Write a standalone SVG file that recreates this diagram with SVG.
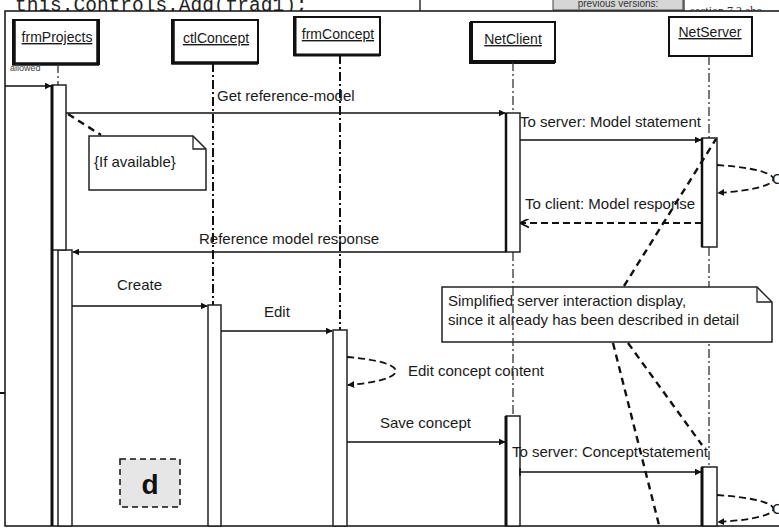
<svg xmlns="http://www.w3.org/2000/svg" width="779" height="529" viewBox="0 0 779 529">
<style>
.lbl{font-family:"Liberation Sans",Arial,sans-serif;font-size:15px;fill:#1a1a1a}
.hd{font-family:"Liberation Sans",Arial,sans-serif;font-size:14px;fill:#1a1a1a;text-decoration:underline;text-anchor:middle}
.box{fill:#fff;stroke:#111;stroke-width:2}
.act{fill:#fff;stroke:#222;stroke-width:1.5}
.life{stroke:#111;stroke-width:2;stroke-dasharray:9,3,2,3;fill:none}
.lifet{stroke:#333;stroke-width:1.3;stroke-dasharray:9,3,2,3;fill:none}
.msg{stroke:#111;stroke-width:1.6;fill:none}
.dmsg{stroke:#111;stroke-width:1.8;fill:none;stroke-dasharray:7,4}
.nl{stroke:#111;stroke-width:2.4;fill:none;stroke-dasharray:7,5}
.note{fill:#fff;stroke:#222;stroke-width:1.5}
</style>
<defs>
<marker id="fa" viewBox="0 0 10 10" refX="9" refY="5" markerWidth="7" markerHeight="7" orient="auto" markerUnits="userSpaceOnUse">
<path d="M0,0 L10,5 L0,10 z" fill="#111"/>
</marker>
<marker id="oa" viewBox="0 0 10 10" refX="9" refY="5" markerWidth="9" markerHeight="9" orient="auto" markerUnits="userSpaceOnUse">
<path d="M0,0 L10,5 L0,10" fill="none" stroke="#111" stroke-width="2"/>
</marker>
</defs>
<rect width="779" height="529" fill="#fff"/>
<g id="page">
<text x="15" y="11" font-family="Liberation Mono,Courier New,monospace" font-size="19.5" fill="#222">this.Controls.Add(frag1);</text>
<line x1="420" y1="0" x2="420" y2="11" stroke="#111" stroke-width="1.3"/>
<rect x="553" y="-2" width="130" height="12" fill="#d6d6d6" stroke="#444" stroke-width="1"/>
<text x="618" y="7" font-family="Liberation Sans,Arial,sans-serif" font-size="10" fill="#333" text-anchor="middle">previous versions:</text>
<line x1="684" y1="0" x2="684" y2="11" stroke="#333" stroke-width="1.3"/>
<text x="690" y="15" font-family="Liberation Serif,serif" font-size="12" fill="#333">section 7.2 abo</text>
<rect x="5" y="11" width="780" height="515" fill="#fff" stroke="#111" stroke-width="1.5"/>
<line x1="0" y1="393" x2="5" y2="393" stroke="#111" stroke-width="2"/>
</g>
<g id="frmProjects">
<rect class="box" x="13" y="20" width="86" height="44"/>
<path d="M14,20 V64 H99 M98,20 V64" stroke="#111" stroke-width="3.5" fill="none"/>
<text class="hd" x="57" y="42">frmProjects</text>
<text x="10" y="71" font-family="Liberation Sans,Arial,sans-serif" font-size="9" fill="#444">allowed</text>
<line class="lifet" x1="58" y1="64" x2="58" y2="85"/>
<rect class="act" x="58" y="250" width="14" height="276" stroke="#777"/>
<rect class="act" x="52" y="85" width="14" height="165"/>
<line x1="52" y1="85" x2="52" y2="526" stroke="#111" stroke-width="3"/>
</g>
<g id="ctlConcept">
<rect class="box" x="172" y="20" width="86" height="43"/>
<path d="M173,20 V63 H258" stroke="#111" stroke-width="3.5" fill="none"/>
<text class="hd" x="216" y="43">ctlConcept</text>
<line class="life" x1="213" y1="63" x2="213" y2="305"/>
<rect class="act" x="208" y="305" width="13" height="221" stroke="#555"/>
</g>
<g id="frmConcept">
<rect class="box" x="294" y="17" width="86" height="38"/>
<path d="M295,17 V55 H380" stroke="#111" stroke-width="3" fill="none"/>
<text class="hd" x="338" y="39">frmConcept</text>
<line class="life" x1="340" y1="55" x2="340" y2="330"/>
<rect class="act" x="333" y="330" width="14" height="196" stroke="#555"/>
</g>
<g id="NetClient">
<rect class="box" x="471" y="22" width="84" height="40" stroke-width="3"/>
<path d="M471,22 V62 H555" stroke="#111" stroke-width="4" fill="none"/>
<text class="hd" x="513" y="44">NetClient</text>
<line class="lifet" x1="513" y1="62" x2="513" y2="113"/>
<line class="lifet" x1="513" y1="252" x2="513" y2="415"/>
<rect class="act" x="506" y="113" width="14" height="139"/>
<line x1="506" y1="113" x2="506" y2="252" stroke="#111" stroke-width="2.5"/>
<rect class="act" x="506" y="416" width="14" height="110"/>
<line x1="506" y1="416" x2="506" y2="526" stroke="#111" stroke-width="3"/>
</g>
<g id="NetServer">
<rect class="box" x="669" y="17" width="83" height="39"/>
<text class="hd" x="710" y="37">NetServer</text>
<line class="lifet" x1="709" y1="56" x2="709" y2="138"/>
<line class="lifet" x1="709" y1="247" x2="709" y2="467"/>
<rect class="act" x="702" y="138" width="15" height="109"/>
<line x1="702" y1="138" x2="702" y2="247" stroke="#111" stroke-width="2.5"/>
<rect class="act" x="702" y="467" width="15" height="59"/>
<line x1="702" y1="467" x2="702" y2="526" stroke="#111" stroke-width="3"/>
</g>
<g id="noteAvailable">
<path class="note" d="M89,136 H193 L206,149 V190 H89 Z"/>
<path d="M193,136 V149 H206" fill="none" stroke="#222" stroke-width="1.3"/>
<text class="lbl" x="94" y="167" font-size="14">{If available}</text>
</g>
<g id="noteSimplified">
<path class="note" d="M442,287 H757 L772,302 V342 H442 Z"/>
<path d="M757,287 V302 H772" fill="none" stroke="#222" stroke-width="1.3"/>
<text class="lbl" x="448" y="306">Simplified server interaction display,</text>
<text class="lbl" x="448" y="325">since it already has been described in detail</text>
</g>
<line class="lifet" x1="513" y1="287" x2="513" y2="342"/>
<g id="connectors">
<line class="msg" x1="5" y1="86" x2="51" y2="86" stroke-width="3" marker-end="url(#fa)"/>
<line class="msg" x1="66" y1="113" x2="505" y2="113" marker-end="url(#fa)"/>
<text class="lbl" x="217" y="101">Get reference-model</text>
<line class="nl" x1="68" y1="114" x2="101" y2="135"/>
<line class="msg" x1="520" y1="140" x2="701" y2="140" marker-end="url(#fa)"/>
<text class="lbl" x="520" y="127">To server: Model statement</text>
<path class="dmsg" d="M717,165 C792,170 792,188 718,193" marker-end="url(#fa)"/>
<text class="lbl" x="772" y="184">C</text>
<line class="dmsg" x1="702" y1="223" x2="521" y2="223" marker-end="url(#oa)"/>
<text class="lbl" x="525" y="209">To client: Model response</text>
<line class="msg" x1="506" y1="252" x2="73" y2="252" marker-end="url(#fa)"/>
<text class="lbl" x="199" y="244">Reference model response</text>
<line class="msg" x1="72" y1="306" x2="207" y2="306" marker-end="url(#fa)"/>
<text class="lbl" x="117" y="290">Create</text>
<line class="msg" x1="221" y1="331" x2="332" y2="331" marker-end="url(#fa)"/>
<text class="lbl" x="264" y="317">Edit</text>
<path class="dmsg" d="M347,357 C412,362 412,380 348,385" marker-end="url(#fa)"/>
<text class="lbl" x="408" y="376">Edit concept content</text>
<line class="msg" x1="347" y1="442" x2="505" y2="442" marker-end="url(#fa)"/>
<text class="lbl" x="380" y="428">Save concept</text>
<line class="msg" x1="520" y1="472" x2="701" y2="472" marker-end="url(#fa)"/>
<line x1="520" y1="468" x2="520" y2="476" stroke="#111" stroke-width="1.5"/>
<text class="lbl" x="512" y="457">To server: Concept statement</text>
<path class="dmsg" d="M717,495 C792,500 792,518 718,522" marker-end="url(#fa)"/>
<text class="lbl" x="772" y="514">C</text>
<line class="nl" x1="624" y1="286" x2="716" y2="139"/>
<line class="nl" x1="613" y1="343" x2="660" y2="529"/>
<line class="nl" x1="628" y1="343" x2="702" y2="445"/>
</g>
<g id="labelD">
<rect x="120" y="459" width="60" height="48" fill="#e6e6e6" stroke="#111" stroke-width="1.5" stroke-dasharray="6,4"/>
<text x="150" y="494" font-family="Liberation Sans,Arial,sans-serif" font-size="28" font-weight="bold" fill="#111" text-anchor="middle">d</text>
</g>
</svg>
